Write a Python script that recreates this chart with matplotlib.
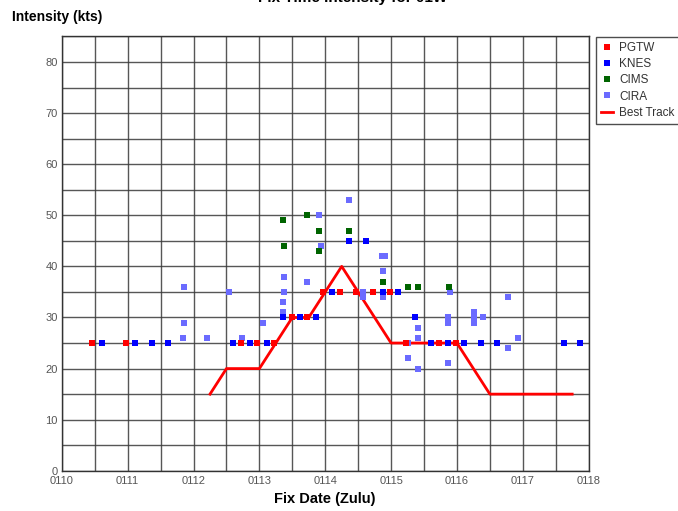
import matplotlib
matplotlib.use('Agg')
import matplotlib.pyplot as plt
from matplotlib.lines import Line2D
import numpy as np

plt.rcParams['font.family'] = ['Liberation Sans', 'DejaVu Sans']

# fix times are days of January (0110 -> 10.0)
pgtw_day = [10.46, 10.97, 12.72, 12.97, 13.22, 13.49, 13.73, 13.97, 14.23, 14.47, 14.72, 14.98,
            15.23, 15.73, 15.98]
pgtw_kts = [25, 25, 25, 25, 25, 30, 30, 35, 35, 35, 35, 35, 25, 25, 25]

knes_day = [10.61, 11.11, 11.37, 11.61, 12.60, 12.86, 13.11, 13.36, 13.62, 13.86, 14.11, 14.36,
            14.62, 14.87, 15.11, 15.36, 15.60, 15.86, 16.11, 16.36, 16.61, 17.62, 17.87]
knes_kts = [25, 25, 25, 25, 25, 25, 25, 30, 30, 30, 35, 45, 45, 35, 35, 30, 25, 25, 25, 25, 25, 25, 25]

cims_day = [13.36, 13.37, 13.73, 13.91, 13.91, 14.36, 14.88, 15.26, 15.41, 15.88]
cims_kts = [49, 44, 50, 47, 43, 47, 37, 36, 36, 36]

cira_day = [11.86, 11.86, 11.84, 12.21, 12.54, 12.73, 13.06, 13.37, 13.37, 13.36, 13.36, 13.73,
            13.91, 13.93, 14.36, 14.58, 14.58, 14.86, 14.90, 14.88, 14.88, 15.25, 15.26, 15.41,
            15.41, 15.41, 15.87, 15.87, 15.87, 15.90, 16.26, 16.26, 16.26, 16.40, 16.78, 16.78, 16.92]
cira_kts = [36, 29, 26, 26, 35, 26, 29, 38, 35, 33, 31, 37,
            50, 44, 53, 35, 34, 42, 42, 39, 34, 25, 22, 28,
            26, 20, 30, 29, 21, 35, 31, 30, 29, 30, 34, 24, 26]

best_day = [12.25, 12.5, 13.0, 13.5, 13.75, 14.0, 14.25, 15.0, 16.0, 16.5, 17.75]
best_kts = [15, 20, 20, 30, 30, 35, 40, 25, 25, 15, 15]

xtick_days = list(range(10, 19))
xtick_labels = ['01%02d' % d for d in xtick_days]

fig = plt.figure(figsize=(6.78, 5.11), dpi=100)
ax = fig.add_axes([0.0912, 0.0787, 0.777, 0.850])

ax.plot(best_day, best_kts, color='#ff0000', lw=2, zorder=3)
ms = 4.6
ax.plot(cira_day, cira_kts, 's', color='#6b6bff', ms=ms, mew=0, zorder=4)
ax.plot(cims_day, cims_kts, 's', color='#006400', ms=ms, mew=0, zorder=5)
ax.plot(knes_day, knes_kts, 's', color='#0000ff', ms=ms, mew=0, zorder=5)
ax.plot(pgtw_day, pgtw_kts, 's', color='#ff0000', ms=ms, mew=0, zorder=5)

ax.set_xlim(10, 18)
ax.set_ylim(0, 85)
ax.set_xticks(xtick_days)
ax.set_xticklabels(xtick_labels)
ax.set_xticks(np.arange(10.5, 18, 1.0), minor=True)
ax.set_yticks(range(0, 81, 10))
ax.set_yticks(range(5, 86, 10), minor=True)
ax.grid(which='both', color='#3a3a3a', lw=1.0, alpha=0.85)
ax.set_axisbelow(True)
ax.tick_params(which='both', length=0, labelsize=8, labelcolor='#555555')
ax.tick_params(axis='x', pad=4)
ax.tick_params(axis='y', pad=3)
for s in ax.spines.values():
    s.set_color('#333333')
    s.set_linewidth(1.0)

ax.set_xlabel('Fix Date (Zulu)', fontsize=10.5, fontweight='bold', labelpad=4)
fig.text(0.018, 0.967, 'Intensity (kts)', fontsize=10, fontweight='bold', ha='left', va='center')
fig.text(0.52, 1 - 2 / 511, 'Fix Time Intensity for 01W', fontsize=11, fontweight='bold',
         ha='center', va='baseline')

handles = [
    Line2D([], [], marker='s', ls='none', color='#ff0000', ms=4, mew=0),
    Line2D([], [], marker='s', ls='none', color='#0000ff', ms=4, mew=0),
    Line2D([], [], marker='s', ls='none', color='#006400', ms=4, mew=0),
    Line2D([], [], marker='s', ls='none', color='#6b6bff', ms=4, mew=0),
    Line2D([], [], color='#ff0000', lw=2),
]
leg = fig.legend(handles, ['PGTW', 'KNES', 'CIMS', 'CIRA', 'Best Track'],
                 loc='upper left', bbox_to_anchor=(0.879, 0.928), fontsize=8.5,
                 frameon=True, fancybox=False, handlelength=1.0, handletextpad=0.5,
                 borderpad=0.45, labelspacing=0.35, borderaxespad=0)
leg.get_frame().set_edgecolor('#222222')
leg.get_frame().set_linewidth(1.0)
for t in leg.get_texts():
    t.set_color('#333333')

fig.savefig('out.png', dpi=100)
